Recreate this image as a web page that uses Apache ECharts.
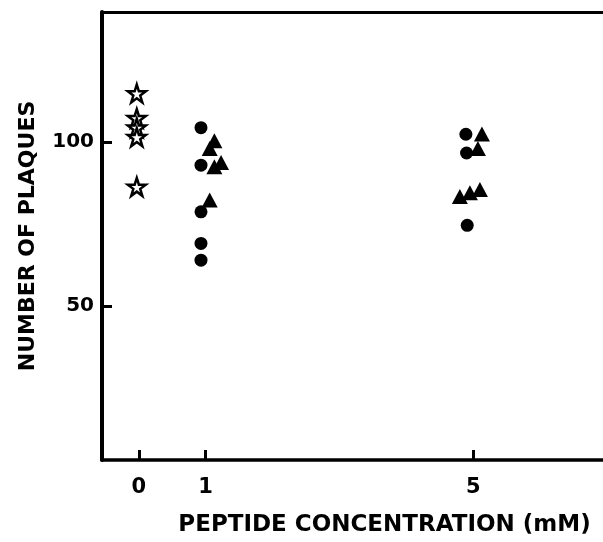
<!doctype html>
<html>
<head>
<meta charset="utf-8">
<title>Number of plaques vs peptide concentration</title>
<style>
    html, body { margin: 0; padding: 0; background: #fff; }
    #main { width: 603px; height: 542px; }
</style>
</head>
<body>
<div id="main"></div>
<script src="https://cdn.jsdelivr.net/npm/echarts@6/dist/echarts.min.js"></script>
<script>
// tick positions
var xTicks = [0, 1, 5];
var yTicks = [50, 100];

// control (open stars), 0 mM
var starX = [-0.03, -0.03, -0.03, -0.03, -0.03];
var starY = [114.7, 107.2, 104.3, 101.4, 86.3];

// filled circles
var circleX = [0.93, 0.93, 0.93, 0.93, 0.93, 4.89, 4.9, 4.91];
var circleY = [104.3, 92.9, 78.7, 69.1, 64.0, 102.3, 96.6, 74.6];

// filled triangles
var triX = [1.13, 1.06, 1.13, 1.23, 1.06, 5.13, 5.07, 4.8, 4.95, 5.1];
var triY = [100.3, 98.0, 92.4, 93.7, 82.3, 102.4, 98.0, 83.4, 84.5, 85.5];

function pairs(xs, ys) {
    return xs.map(function (x, i) { return [x, ys[i]]; });
}

var starPath = 'path://M50,2 L61,36 L97,36 L68,57 L79,92 L50,71 L21,92 L32,57 L3,36 L39,36 Z';
var font = 'DejaVu Sans';

var chart = echarts.init(document.getElementById('main'));

chart.setOption({
    animation: false,
    grid: { left: 102, right: 0, top: 12, bottom: 82 },
    xAxis: [{
        type: 'value',
        min: -0.55,
        max: 6.94,
        name: 'PEPTIDE CONCENTRATION (mM)',
        nameLocation: 'middle',
        nameGap: 54,
        nameTextStyle: {
            fontFamily: font, fontWeight: 'bold', fontSize: 23, color: '#000',
            padding: [0, 0, 0, 64]
        },
        axisLine: { show: true, onZero: false, lineStyle: { color: '#000', width: 3.5 } },
        axisTick: { show: true, inside: true, length: 10, customValues: xTicks, lineStyle: { color: '#000', width: 3 } },
        axisLabel: { customValues: xTicks, margin: 17, fontFamily: font, fontWeight: 'bold', fontSize: 21, color: '#000' },
        splitLine: { show: false }
    }, {
        type: 'value',
        position: 'top',
        min: -0.55,
        max: 6.94,
        axisLine: { show: true, onZero: false, lineStyle: { color: '#000', width: 3 } },
        axisTick: { show: false },
        axisLabel: { show: false },
        splitLine: { show: false }
    }],
    yAxis: {
        type: 'value',
        min: 3.2,
        max: 139.5,
        name: 'NUMBER OF PLAQUES',
        nameLocation: 'middle',
        nameGap: 63,
        nameTextStyle: { fontFamily: font, fontWeight: 'bold', fontSize: 22, color: '#000' },
        axisLine: { show: true, onZero: false, lineStyle: { color: '#000', width: 4 } },
        axisTick: { show: true, inside: true, length: 10, customValues: yTicks, lineStyle: { color: '#000', width: 3 } },
        axisLabel: { customValues: yTicks, margin: 8, fontFamily: font, fontWeight: 'bold', fontSize: 20, color: '#000' },
        splitLine: { show: false }
    },
    series: [{
        type: 'scatter',
        data: pairs(starX, starY),
        symbol: starPath,
        symbolSize: 18,
        itemStyle: { color: '#fff', borderColor: '#000', borderWidth: 2.5, opacity: 1 }
    }, {
        type: 'scatter',
        data: pairs(circleX, circleY),
        symbol: 'circle',
        symbolSize: 13,
        itemStyle: { color: '#000', opacity: 1 }
    }, {
        type: 'scatter',
        data: pairs(triX, triY),
        symbol: 'triangle',
        symbolSize: [16, 15],
        itemStyle: { color: '#000', opacity: 1 }
    }]
});
</script>
</body>
</html>
